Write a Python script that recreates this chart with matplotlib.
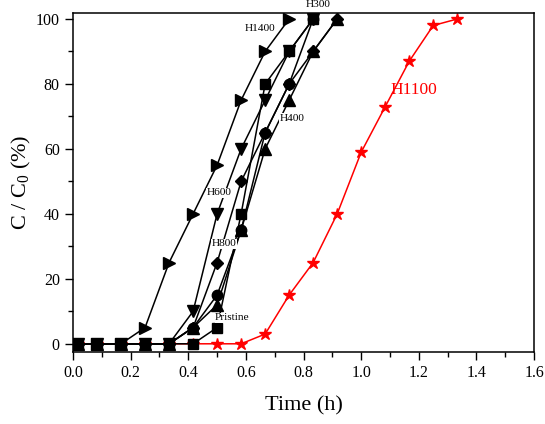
import matplotlib
matplotlib.use("Agg")
import matplotlib.pyplot as plt
from matplotlib.ticker import MultipleLocator

plt.rcParams['font.family'] = ['Liberation Serif', 'DejaVu Serif']
plt.rcParams['mathtext.fontset'] = 'custom'
plt.rcParams['mathtext.rm'] = 'Liberation Serif'
plt.rcParams['mathtext.it'] = 'Liberation Serif:italic'

# time points (h)
t_all = [0.0167, 0.0833, 0.1667, 0.25, 0.3333, 0.4167, 0.5, 0.5833, 0.6667,
         0.75, 0.8333, 0.9167, 1.0, 1.0833, 1.1667, 1.25, 1.3333]

pristine = [0, 0, 0, 0, 0, 0, 5, 40, 80, 90, 100]
h300 = [0, 0, 0, 0, 0, 5, 15, 35, 65, 80, 100]
h400 = [0, 0, 0, 0, 0, 5, 12, 35, 60, 75, 90, 100]
h600 = [0, 0, 0, 0, 0, 10, 40, 60, 75, 90, 100]
h800 = [0, 0, 0, 0, 0, 5, 25, 50, 65, 80, 90, 100]
h1400 = [0, 0, 0, 5, 25, 40, 55, 75, 90, 100]
h1100 = [0, 0, 0, 0, 0, 0, 0, 0, 3, 15, 25, 40, 59, 73, 87, 98, 100]

series = [
    ("Pristine", pristine, "s", 6.5),
    ("H300", h300, "o", 7.5),
    ("H400", h400, "^", 8),
    ("H600", h600, "v", 8),
    ("H800", h800, "D", 6.5),
    ("H1400", h1400, ">", 8),
]

fig = plt.figure(figsize=(5.45, 4.24), dpi=100)
ax = fig.add_axes([0.134, 0.170, 0.846, 0.799])

ax.plot(t_all[:len(h1100)], h1100, color='#ff0000', marker='*', markersize=9,
        linewidth=1.1, zorder=2)
for name, vals, mk, ms in series:
    ax.plot(t_all[:len(vals)], vals, color='black', marker=mk, markersize=ms,
            linewidth=1.1, zorder=3)

ax.set_xlim(0, 1.6)
ax.set_ylim(-2.5, 101.8)
ax.xaxis.set_minor_locator(MultipleLocator(0.1))
ax.yaxis.set_major_locator(MultipleLocator(20))
ax.yaxis.set_minor_locator(MultipleLocator(10))
ax.set_xticks([0, 0.2, 0.4, 0.6, 0.8, 1.0, 1.2, 1.4, 1.6])
ax.set_xticklabels(['0.0', '0.2', '0.4', '0.6', '0.8', '1.0', '1.2', '1.4', '1.6'])
ax.tick_params(which='major', direction='out', length=6, width=1, labelsize=11.5,
               top=False, right=False)
ax.tick_params(which='minor', direction='out', length=3.5, width=1,
               top=False, right=False)
for s in ax.spines.values():
    s.set_linewidth(1.1)

ax.set_xlabel('Time (h)', fontsize=16, labelpad=11)
ax.set_ylabel(r'C / C$_0$ (%)', fontsize=16, labelpad=2)

bb = dict(facecolor='white', edgecolor='none', pad=0.3)
lab = [
    ("H300", 0.851, 104.5),
    ("H1400", 0.649, 97),
    ("H400", 0.76, 69.5),
    ("H600", 0.507, 46.5),
    ("H800", 0.524, 30.8),
    ("Pristine", 0.553, 8),
]
for txt, x, y in lab:
    ax.text(x, y, txt, fontsize=8.2, ha='center', va='center', bbox=bb,
            zorder=5, clip_on=False)
ax.text(1.184, 78, "H1100", fontsize=12.5, color='#ff0000', ha='center',
        va='center', zorder=5)

fig.savefig("out.png", dpi=100)
